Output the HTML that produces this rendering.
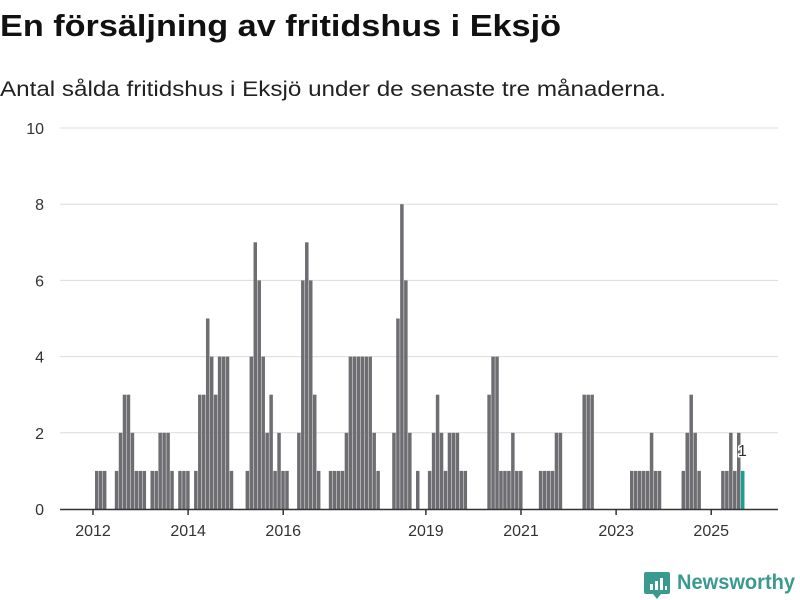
<!DOCTYPE html>
<html><head><meta charset="utf-8"><style>
html,body{margin:0;padding:0;background:#fff;}
svg{display:block;font-family:"Liberation Sans",sans-serif;}
</style></head><body>
<svg id="chart" width="800" height="600" viewBox="0 0 800 600">
<text x="0" y="36" font-size="31" font-weight="bold" fill="#111" textLength="561" lengthAdjust="spacingAndGlyphs">En försäljning av fritidshus i Eksjö</text>
<text x="0" y="96" font-size="21" fill="#222" textLength="666" lengthAdjust="spacingAndGlyphs">Antal sålda fritidshus i Eksjö under de senaste tre månaderna.</text>
<g id="grid"></g>
<g id="bars"></g>
<g id="xaxis"></g>
<g>
<path d="M646 572 h22 a2 2 0 0 1 2 2 v18 a2 2 0 0 1 -2 2 h-7 l-4 5 l-4 -5 h-7 a2 2 0 0 1 -2 -2 v-18 a2 2 0 0 1 2 -2z" fill="#3a9a90"/>
<rect x="650" y="584" width="3" height="6" fill="#fff"/><rect x="655" y="581" width="3" height="9" fill="#fff"/><rect x="660" y="578" width="3" height="12" fill="#fff"/><rect x="665" y="586" width="2" height="4" fill="#fff"/>
<text x="677" y="589" font-size="21" font-weight="bold" fill="#3a9a90" textLength="118" lengthAdjust="spacingAndGlyphs">Newsworthy</text>
</g>
</svg>
<script>
const values = [1,1,1,0,0,1,2,3,3,2,1,1,
1,0,1,1,2,2,2,1,0,1,1,1,
0,1,3,3,5,4,3,4,4,4,1,0,
0,0,1,4,7,6,4,2,3,1,2,1,
1,0,0,2,6,7,6,3,1,0,0,1,
1,1,1,2,4,4,4,4,4,4,2,1,
0,0,0,2,5,8,6,2,0,1,0,0,
1,2,3,2,1,2,2,2,1,1,0,0,
0,0,0,3,4,4,1,1,1,2,1,1,
0,0,0,0,1,1,1,1,2,2,0,0,
0,0,0,3,3,3,0,0,0,0,0,0,
0,0,0,1,1,1,1,1,2,1,1,0,
0,0,0,0,1,2,3,2,1,0,0,0,
0,0,1,1,2,1,2,1];
const startYear = 2012;
const yTicks = [0,2,4,6,8,10];
const xTickYears = [2012,2014,2016,2019,2021,2023,2025];
const NS='http://www.w3.org/2000/svg';
const x = m => 95 + m*3.963;
const y = v => 509 - v*38.1;
const grid=document.getElementById('grid');
yTicks.forEach(t=>{
  if(t>0){const l=document.createElementNS(NS,'line');
  l.setAttribute('x1',60);l.setAttribute('x2',778);l.setAttribute('y1',y(t));l.setAttribute('y2',y(t));
  l.setAttribute('stroke','#dcdcdc');l.setAttribute('stroke-width',1);
  
  
  grid.appendChild(l);}
  const tx=document.createElementNS(NS,'text');
  tx.setAttribute('x',44);tx.setAttribute('y',y(t)+6);tx.setAttribute('text-anchor','end');
  tx.setAttribute('font-size',16);tx.setAttribute('fill','#333');tx.textContent=t;
  
  
  grid.appendChild(tx);
});
const bars=document.getElementById('bars');
values.forEach((v,i)=>{
  if(v<=0) return;
  const r=document.createElementNS(NS,'rect');
  r.setAttribute('x',x(i));r.setAttribute('width',3.5);
  r.setAttribute('y',y(v));r.setAttribute('height',y(0)-y(v));
  r.setAttribute('fill', i===values.length-1 ? '#1a9e8f' : '#6e6d72');
  
  
  bars.appendChild(r);
});
const last=values.length-1;
const lbl=document.createElementNS(NS,'text');
lbl.setAttribute('x',x(last)+1.5);lbl.setAttribute('y',y(values[last])-15);
lbl.setAttribute('text-anchor','middle');lbl.setAttribute('font-size',16);lbl.setAttribute('fill','#333');
lbl.setAttribute('stroke','#fff');lbl.setAttribute('stroke-width',3);lbl.setAttribute('paint-order','stroke');
lbl.textContent=values[last];


bars.appendChild(lbl);
const xa=document.getElementById('xaxis');
const ax=document.createElementNS(NS,'line');
ax.setAttribute('x1',60);ax.setAttribute('x2',778);ax.setAttribute('y1',509.5);ax.setAttribute('y2',509.5);
ax.setAttribute('stroke','#333');ax.setAttribute('stroke-width',1.5);


xa.appendChild(ax);
xTickYears.forEach(yr=>{
  const px=x((yr-startYear)*12)-2;
  const t=document.createElementNS(NS,'line');
  t.setAttribute('x1',px);t.setAttribute('x2',px);t.setAttribute('y1',509);t.setAttribute('y2',515);
  t.setAttribute('stroke','#333');t.setAttribute('stroke-width',1.5);
  
  
  xa.appendChild(t);
  const tx=document.createElementNS(NS,'text');
  tx.setAttribute('x',px);tx.setAttribute('y',536);tx.setAttribute('text-anchor','middle');
  tx.setAttribute('font-size',16);tx.setAttribute('fill','#333');tx.textContent=yr;
  
  
  xa.appendChild(tx);
});
</script>
</body></html>
